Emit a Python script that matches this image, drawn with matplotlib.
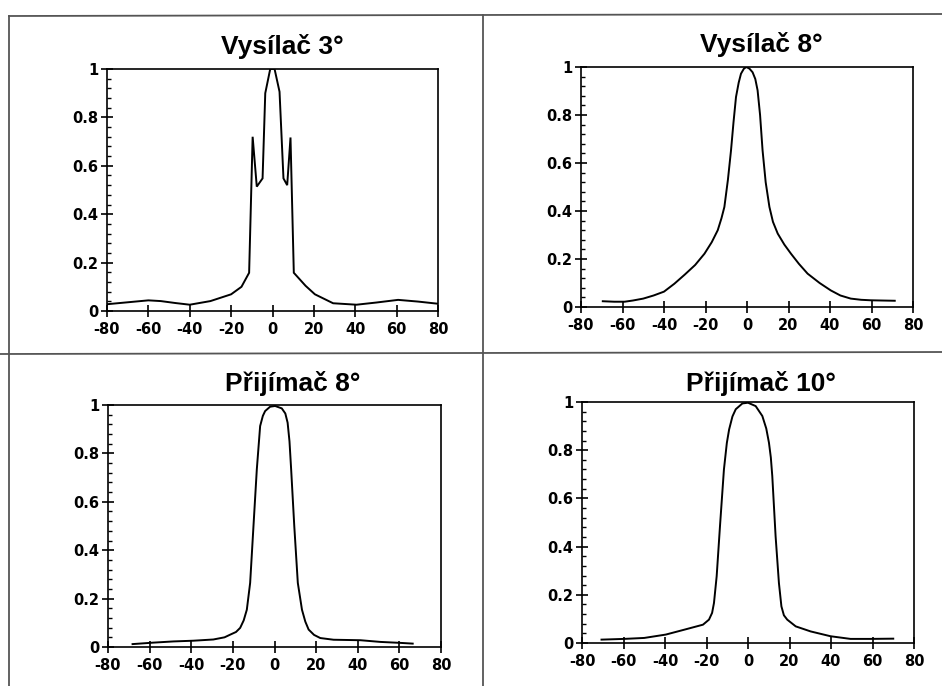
import matplotlib
matplotlib.use("Agg")
import matplotlib.pyplot as plt
from matplotlib.lines import Line2D
from matplotlib.ticker import MultipleLocator

# ---- data ----
titles = ["Vysílač 3°", "Vysílač 8°", "Přijímač 8°", "Přijímač 10°"]

x_v3 = [-80, -70, -60, -54, -47, -40, -30, -20, -15, -11.3, -9.6, -7.6, -4.8, -3.5,
        -1.1, 1.0, 3.4, 5.3, 7.1, 8.7, 10.3, 16, 20.5, 29.3, 40.6, 50.2, 60.7, 70.3, 80]
y_v3 = [0.028, 0.036, 0.044, 0.041, 0.033, 0.026, 0.041, 0.069, 0.10, 0.158, 0.72, 0.514,
        0.548, 0.90, 1.0, 1.0, 0.906, 0.548, 0.52, 0.717, 0.158, 0.104, 0.069, 0.032,
        0.026, 0.035, 0.046, 0.039, 0.030]

x_v8 = [-69.5, -64, -59, -55, -50, -45, -40, -35, -30, -25, -20.5, -17, -14.1, -12.3,
        -10.9, -9.2, -7.7, -6.5, -5.3, -4.0, -2.9, -1.5, -0.3, 1.2, 2.7, 4.0, 5.1, 6.3,
        7.5, 9.0, 10.8, 12.5, 14.8, 18, 21.2, 25, 29.2, 35, 40.4, 45, 50, 55, 59.6, 65, 71.2]
y_v8 = [0.024, 0.022, 0.022, 0.027, 0.035, 0.048, 0.064, 0.097, 0.135, 0.175, 0.222, 0.27,
        0.32, 0.37, 0.417, 0.53, 0.653, 0.77, 0.875, 0.935, 0.972, 0.993, 1.0, 0.993, 0.978,
        0.95, 0.903, 0.80, 0.653, 0.52, 0.417, 0.355, 0.306, 0.26, 0.222, 0.18, 0.139,
        0.10, 0.069, 0.048, 0.035, 0.030, 0.028, 0.027, 0.026]

x_p8 = [-68.2, -58.3, -48.6, -39, -29.4, -24, -21.3, -18.5, -16.5, -14.8, -13.3, -11.7,
        -10.1, -8.5, -6.9, -5.6, -4.5, -2.1, 0.3, 3.5, 5.2, 6.3, 7.2, 8.0, 9.5, 11.2,
        13.2, 14.8, 16.4, 19, 22, 28.4, 41.3, 50.9, 60.5, 66.4]
y_p8 = [0.012, 0.018, 0.023, 0.026, 0.031, 0.040, 0.051, 0.062, 0.079, 0.11, 0.154, 0.265,
        0.5, 0.734, 0.913, 0.955, 0.975, 0.993, 0.996, 0.986, 0.965, 0.927, 0.85, 0.734,
        0.5, 0.265, 0.154, 0.105, 0.072, 0.050, 0.037, 0.030, 0.028, 0.021, 0.017, 0.014]

x_p10 = [-70.6, -59.7, -50, -39.6, -30.8, -21.7, -18.8, -17.3, -16.4, -15.1, -13.5, -11.6,
         -10.2, -9.1, -7.5, -5.9, -2.7, 0, 3.7, 6.9, 8.8, 10.1, 11.0, 11.7, 13.3, 14.9,
         16.1, 17.3, 18.9, 23, 30.2, 39.8, 49.4, 59, 70]
y_p10 = [0.014, 0.017, 0.021, 0.035, 0.055, 0.076, 0.097, 0.125, 0.166, 0.277, 0.485, 0.72,
         0.83, 0.886, 0.94, 0.97, 0.994, 0.997, 0.983, 0.942, 0.89, 0.831, 0.77, 0.693,
         0.443, 0.249, 0.152, 0.115, 0.097, 0.069, 0.048, 0.028, 0.017, 0.017, 0.018]

xs = [x_v3, x_v8, x_p8, x_p10]
ys = [y_v3, y_v8, y_p8, y_p10]

x_ticks = [-80, -60, -40, -20, 0, 20, 40, 60, 80]
x_ticklabels = ["-80", "-60", "-40", "-20", "0", "20", "40", "60", "80"]
y_ticks = [0, 0.2, 0.4, 0.6, 0.8, 1]
y_ticklabels = ["0", "0.2", "0.4", "0.6", "0.8", "1"]

# ---- layout (pixels of a 942x686 canvas) ----
W, H = 942, 686
fig = plt.figure(figsize=(W / 100, H / 100), dpi=100)
fig.patch.set_facecolor("white")

axes_px = [(107, 438, 69, 311), (581, 913, 67, 307), (108, 441, 405, 647), (582, 914, 402, 643)]
title_px = [(282, 54), (761, 52), (293, 391), (761, 391)]


def fx(px):
    return px / W


def fy(py):
    return 1 - py / H


# table lines
grid_col = "#555555"
for (x0, y0, x1, y1) in [(9, 16, 942, 14), (9, 16, 9, 686), (483, 15, 483, 686), (0, 354, 942, 352)]:
    fig.add_artist(Line2D([fx(x0), fx(x1)], [fy(y0), fy(y1)], color=grid_col, lw=1.3,
                          transform=fig.transFigure))

for i in range(4):
    l, r, t, b = axes_px[i]
    ax = fig.add_axes([fx(l), fy(b), (r - l) / W, (b - t) / H])
    ax.plot(xs[i], ys[i], color="black", lw=1.4, solid_joinstyle="miter" if i == 0 else "round")
    ax.set_xlim(-80, 80)
    ax.set_ylim(0, 1)
    ax.set_xticks(x_ticks)
    ax.set_xticklabels(x_ticklabels)
    ax.set_yticks(y_ticks)
    ax.set_yticklabels(y_ticklabels)
    ax.yaxis.set_minor_locator(MultipleLocator(0.04))
    for s in ax.spines.values():
        s.set_linewidth(1.2)
        s.set_color("black")
    ax.tick_params(axis="both", which="major", direction="inout", length=8, width=1.2,
                   labelsize=10.5)
    ax.tick_params(axis="y", which="major", pad=2)
    ax.tick_params(axis="x", which="major", pad=4)
    ax.tick_params(axis="y", which="minor", direction="in", length=3, width=1.0)
    ax.tick_params(axis="x", which="minor", length=0)
    for lab in ax.get_xticklabels() + ax.get_yticklabels():
        lab.set_fontweight("bold")
        lab.set_family("DejaVu Sans")
    tx, ty = title_px[i]
    fig.text(fx(tx), fy(ty), titles[i], ha="center", va="baseline", fontsize=19,
             fontweight="bold", family=["Liberation Sans", "DejaVu Sans"])

fig.savefig("out.png", dpi=100, facecolor="white")
